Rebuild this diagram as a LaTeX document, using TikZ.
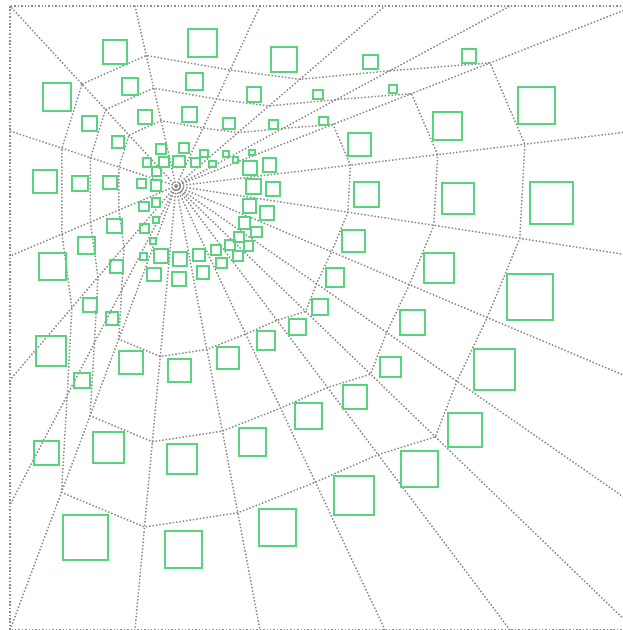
\documentclass[tikz,border=0pt]{standalone}
\usetikzlibrary{calc}
\definecolor{webgray}{RGB}{140,140,140}
\definecolor{boxgreen}{RGB}{88,212,126}

\begin{document}
\begin{tikzpicture}[x=1pt, y=-1pt,
  web/.style={webgray, line width=1.5pt, dash pattern=on 1.5pt off 1.9pt},
  box/.style={boxgreen, line width=1.1pt}]
  \useasboundingbox (0,0) rectangle (623,630);
  \fill[white] (0,0) rectangle (623,630);
  % Frame
  \draw[web] (10,6) rectangle (635,630);
  % Spokes from the eye, ring points along each spoke
  \coordinate (c) at (176,186);
  \foreach \bx/\by/\t [count=\i] in {10/6/0.566, 135/6/0.725, 260/6/0.644,
      385/6/0.593, 510/6/0.64, 635/6/0.684, 635/131/0.76, 635/256/0.749,
      635/380/0.678, 635/505/0.612, 635/630/0.565, 510/630/0.605,
      385/630/0.667, 260/630/0.736, 135/630/0.768, 10/630/0.69,
      10/505/0.655, 10/380/0.627, 10/256/0.687, 10/131/0.687} {
    \coordinate (b\i) at (\bx,\by);
    \foreach \k in {2,3,4}
      \coordinate (r\k-\i) at ($(c)!\k/4*\t!(b\i)$);
    \draw[web] (c) -- (b\i);
  }
  % Rings
  \foreach \k in {2,3,4}
    \draw[web] (r\k-1) \foreach \i in {2,...,20} { -- (r\k-\i) } -- cycle;
  % Squares, outer band
  \foreach \xa/\ya/\xb/\yb in {103/40/127/64, 188/29/217/57, 271/47/297/72,
      363/55/378/69, 462/49/476/63, 518/87/555/124, 530/182/573/224,
      507/274/553/320, 474/349/515/390, 448/413/482/447, 401/451/438/487,
      334/476/374/515, 259/509/296/546, 165/531/202/568, 63/515/108/560,
      34/441/59/465, 36/336/66/366, 39/253/66/280, 33/170/57/193, 43/83/71/111}
    \draw[box] (\xa,\ya) rectangle (\xb,\yb);
  % Squares, second band
  \foreach \xa/\ya/\xb/\yb in {122/78/138/95, 186/73/203/90, 247/87/261/102,
      313/90/323/99, 389/85/397/93, 433/112/462/140, 442/183/474/214,
      424/253/454/283, 400/310/425/335, 380/357/401/377, 343/385/367/409,
      295/403/322/429, 239/428/266/456, 167/444/197/474, 93/432/124/463,
      74/373/90/388, 83/298/97/312, 78/237/95/254, 72/176/88/191, 82/116/97/131}
    \draw[box] (\xa,\ya) rectangle (\xb,\yb);
  % Squares, third band
  \foreach \xa/\ya/\xb/\yb in {138/110/152/124, 182/107/197/122, 223/118/235/129,
      269/120/278/129, 319/117/328/125, 348/133/371/156, 354/182/379/207,
      342/230/365/252, 326/268/344/287, 312/299/328/315, 289/319/306/335,
      257/331/275/350, 217/347/239/369, 168/359/191/382, 119/351/143/374,
      106/312/118/325, 110/260/123/273, 107/219/122/233, 103/176/117/189,
      112/136/124/148}
    \draw[box] (\xa,\ya) rectangle (\xb,\yb);
  % Squares, fourth band
  \foreach \xa/\ya/\xb/\yb in {156/144/166/154, 179/143/189/153, 200/150/208/157,
      223/151/229/157, 249/150/255/155, 263/158/276/172, 266/182/280/196,
      260/206/274/220, 251/227/262/237, 244/241/253/251, 233/251/243/261,
      216/258/227/268, 197/266/209/279, 172/272/186/286, 147/268/161/281,
      140/253/147/260, 140/224/149/233, 139/202/149/211, 137/179/146/188,
      143/158/151/167}
    \draw[box] (\xa,\ya) rectangle (\xb,\yb);
  % Squares, round the eye
  \foreach \xa/\ya/\xb/\yb in {159/157/169/167, 173/156/185/167, 191/158/200/167,
      209/161/216/167, 233/157/238/163, 243/161/257/175, 246/179/261/194,
      243/199/256/213, 239/217/250/229, 234/232/244/242, 225/240/235/250,
      211/245/221/255, 193/249/205/261, 173/252/187/266, 154/249/168/263,
      150/238/156/244, 153/217/159/223, 152/198/160/207, 151/180/161/191,
      152/167/161/176}
    \draw[box] (\xa,\ya) rectangle (\xb,\yb);
\end{tikzpicture}
\end{document}
